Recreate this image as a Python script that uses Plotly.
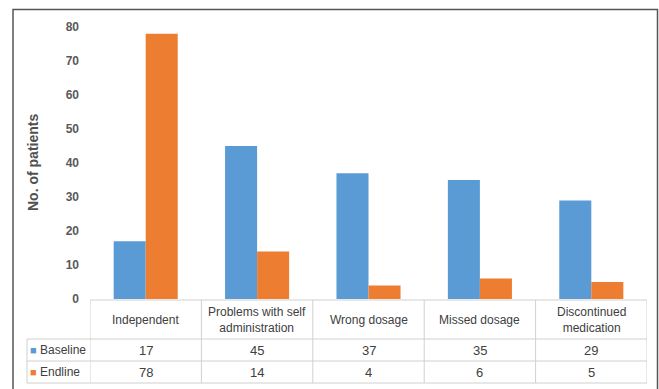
import plotly.graph_objects as go

categories = ["Independent", "Problems with self<br>administration", "Wrong dosage",
              "Missed dosage", "Discontinued<br>medication"]
series_names = ["Baseline", "Endline"]
baseline = [17, 45, 37, 35, 29]
endline = [78, 14, 4, 6, 5]
colors = ["#5B9BD5", "#ED7D31"]
y_ticks = [0, 10, 20, 30, 40, 50, 60, 70, 80]

W, H = 659, 389
L, R, T, B = 90, 12, 27, 90  # plot area: x 90..647, y 27..299
pw, ph = W - L - R, H - T - B

def px_x(px):
    return (px - L) / pw

def px_y(py):
    return (H - B - py) / ph

fig = go.Figure()
for name, vals, col in zip(series_names, [baseline, endline], colors):
    fig.add_trace(go.Bar(x=list(range(len(categories))), y=vals, name=name,
                         marker=dict(color=col, line=dict(width=0))))

font = "Liberation Sans, Arial, sans-serif"
shapes = []
ann = []
grid = "#D0D0D0"
# table rows (pixel y)
y_head_top, y_r1, y_r2, y_r3 = 300, 339, 361, 383
n = len(categories)
# horizontal lines
shapes.append(dict(type="line", xref="x", yref="paper", x0=-0.5, x1=n - 0.5,
                   y0=px_y(y_head_top), y1=px_y(y_head_top), line=dict(color=grid, width=1)))
for yy in [y_r1, y_r2, y_r3]:
    shapes.append(dict(type="line", xref="paper", yref="paper", x0=px_x(27), x1=1,
                       y0=px_y(yy), y1=px_y(yy), line=dict(color=grid, width=1)))
# vertical lines
for i in range(n + 1):
    shapes.append(dict(type="line", xref="x", yref="paper", x0=i - 0.5, x1=i - 0.5,
                       y0=px_y(y_head_top), y1=px_y(y_r3), line=dict(color=grid, width=1)))
shapes.append(dict(type="line", xref="paper", yref="paper", x0=px_x(27), x1=px_x(27),
                   y0=px_y(y_r1), y1=px_y(y_r3), line=dict(color=grid, width=1)))
# outer border
shapes.append(dict(type="rect", xref="paper", yref="paper", x0=px_x(13), x1=px_x(657.5),
                   y0=px_y(400), y1=px_y(9.5), line=dict(color="#555555", width=1.5)))

txt = "#404040"
for i, c in enumerate(categories):
    ann.append(dict(x=i, y=px_y((y_head_top + y_r1) / 2), xref="x", yref="paper", text=c,
                    showarrow=False, font=dict(family=font, size=12, color=txt),
                    xanchor="center", yanchor="middle"))
    for vals, (ya, yb) in zip([baseline, endline], [(y_r1, y_r2), (y_r2, y_r3)]):
        ann.append(dict(x=i, y=px_y((ya + yb) / 2), xref="x", yref="paper", text=str(vals[i]),
                        showarrow=False, font=dict(family=font, size=13, color=txt),
                        xanchor="center", yanchor="middle"))
for name, col, (ya, yb) in zip(series_names, colors, [(y_r1, y_r2), (y_r2, y_r3)]):
    ann.append(dict(x=px_x(28), y=px_y((ya + yb) / 2), xref="paper", yref="paper",
                    text=f"<span style='color:{col};font-size:11px'>■</span> {name}", showarrow=False,
                    font=dict(family=font, size=12, color=txt), xanchor="left", yanchor="middle"))
# y title
ann.append(dict(x=px_x(33), y=0.5, xref="paper", yref="paper", text="<b>No. of patients</b>",
                textangle=-90, showarrow=False, font=dict(family=font, size=14, color="#505050"),
                xanchor="center", yanchor="middle"))

fig.update_layout(
    width=W, height=H, margin=dict(l=L, r=R, t=T, b=B),
    paper_bgcolor="white", plot_bgcolor="white",
    barmode="group", bargap=0.425, bargroupgap=0,
    showlegend=False,
    shapes=shapes, annotations=ann,
    xaxis=dict(range=[-0.5, n - 0.5], showticklabels=False, showgrid=False,
               zeroline=False, showline=False, ticks=""),
    yaxis=dict(range=[0, 80], tickvals=y_ticks, showgrid=False, zeroline=False,
               showline=False, ticks="", ticklabelstandoff=10,
               tickfont=dict(family=font, size=12, color="#595959", weight="bold")),
)
fig.write_html("out.html")
